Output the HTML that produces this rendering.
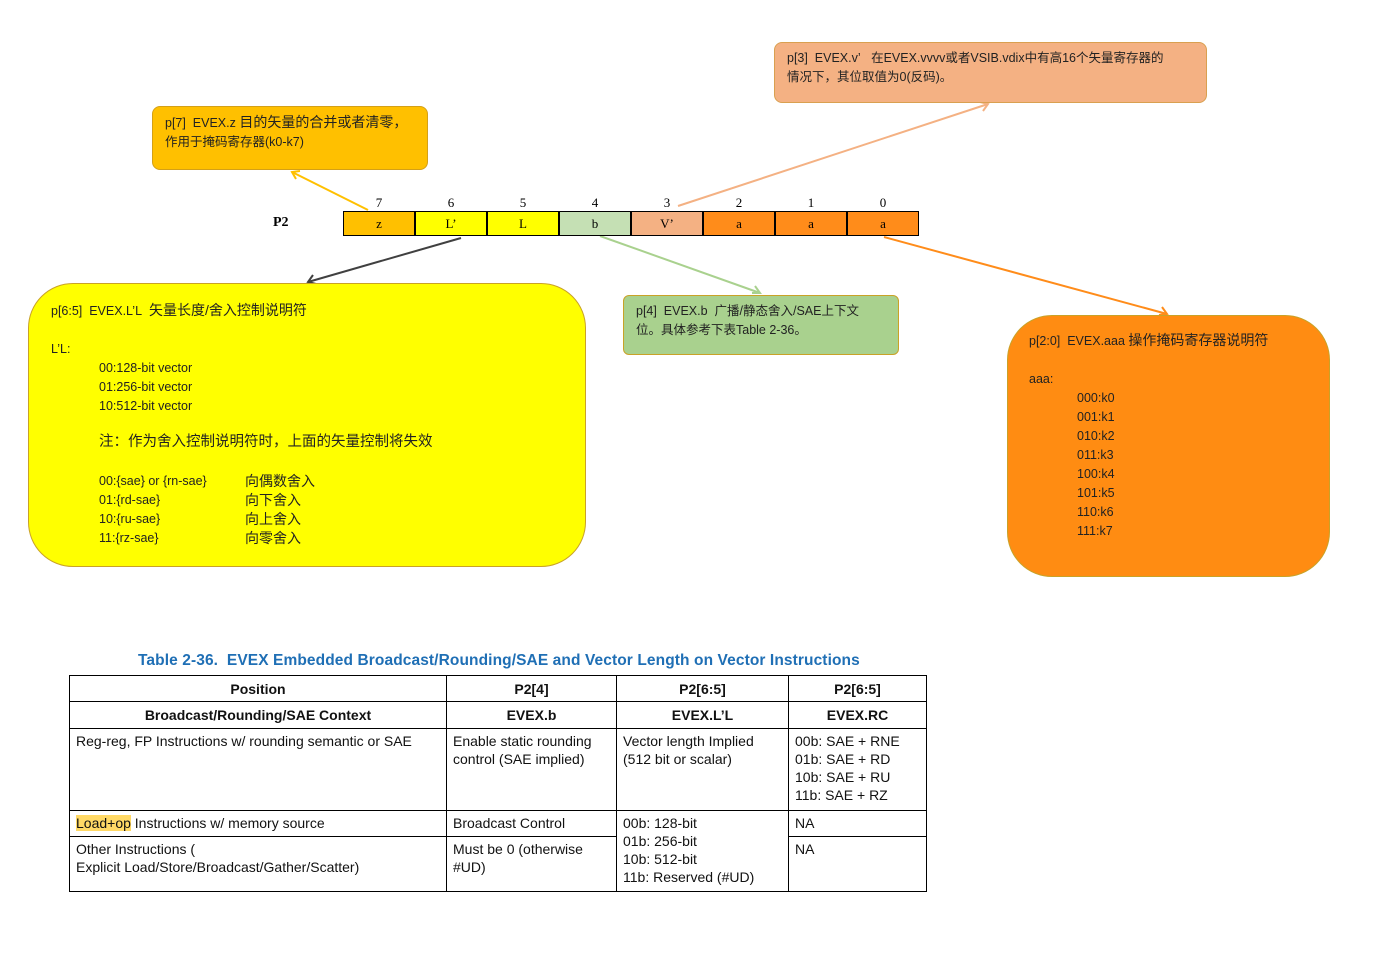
<!DOCTYPE html>
<html><head><meta charset="utf-8"><style>
body{margin:0;width:1388px;height:957px;background:#fff;position:relative;overflow:hidden;font-family:"Liberation Sans","Noto Sans CJK SC",sans-serif;}
.a{position:absolute;}
.t{position:absolute;font-size:12.5px;color:#222;white-space:nowrap;line-height:19px}
.box{position:absolute;box-sizing:border-box;}
.bit{position:absolute;top:211px;width:72px;height:25px;box-sizing:border-box;border:1px solid #000;font-family:"Liberation Serif",serif;font-size:13px;text-align:center;line-height:24px}
.num{position:absolute;top:195px;width:72px;text-align:center;font-family:"Liberation Serif",serif;font-size:13px}
table{position:absolute;left:69px;top:675px;border-collapse:collapse;font-size:14px;color:#111;table-layout:fixed;width:857px}
td{border:1px solid #000;padding:3px 6px;vertical-align:top;line-height:18px;overflow:hidden}
th{border:1px solid #000;font-weight:bold;height:21px;padding:2px;font-size:14px}
</style></head><body>
<svg class="a" style="left:0;top:0" width="1388" height="957">
<g stroke-width="2" fill="none">
<line x1="368" y1="210" x2="292" y2="172" stroke="#FFC000"/><polyline points="300,171 292,172 296,179" stroke="#FFC000"/>
<line x1="678" y1="206" x2="988" y2="104" stroke="#F4B183"/><polyline points="980,102 988,104 983,111" stroke="#F4B183"/>
<line x1="461" y1="238" x2="308" y2="282" stroke="#404040"/><polyline points="313,275 308,282 316,284" stroke="#404040"/>
<line x1="600" y1="236" x2="760" y2="293" stroke="#A9D18E"/><polyline points="752,293 760,293 755,286" stroke="#A9D18E"/>
<line x1="884" y1="237" x2="1167" y2="314" stroke="#FF8C1A"/><polyline points="1159,315 1167,314 1162,307" stroke="#FF8C1A"/>
</g></svg>
<div class="box" style="left:152px;top:106px;width:276px;height:64px;background:#FFC000;border:1.5px solid #D4A017;border-radius:8px"></div>
<div class="t" style="left:165px;top:113px">p[7]&nbsp; EVEX.z <span style="font-size:14px">目的矢量的合并或者清零，</span><br>作用于掩码寄存器(k0-k7)</div>
<div class="box" style="left:774px;top:42px;width:433px;height:61px;background:#F4B183;border:1.5px solid #D9A050;border-radius:8px"></div>
<div class="t" style="left:787px;top:49px">p[3]&nbsp; EVEX.v’&nbsp;&nbsp; 在EVEX.vvvv或者VSIB.vdix中有高16个矢量寄存器的<br>情况下，其位取值为0(反码)。</div>
<div class="a" style="left:273px;top:215px;font-family:'Liberation Serif',serif;font-weight:bold;font-size:14px">P2</div>
<div class="num" style="left:343px">7</div><div class="num" style="left:415px">6</div><div class="num" style="left:487px">5</div><div class="num" style="left:559px">4</div><div class="num" style="left:631px">3</div><div class="num" style="left:703px">2</div><div class="num" style="left:775px">1</div><div class="num" style="left:847px">0</div>
<div class="bit" style="left:343px;background:#FFC000">z</div>
<div class="bit" style="left:415px;background:#FFFF00">L’</div>
<div class="bit" style="left:487px;background:#FFFF00">L</div>
<div class="bit" style="left:559px;background:#C5E0B4">b</div>
<div class="bit" style="left:631px;background:#F4B183">V’</div>
<div class="bit" style="left:703px;background:#FF8C1A">a</div>
<div class="bit" style="left:775px;background:#FF8C1A">a</div>
<div class="bit" style="left:847px;background:#FF8C1A">a</div>
<div class="box" style="left:28px;top:283px;width:558px;height:284px;background:#FFFF00;border:1.5px solid #C9A227;border-radius:45px"></div>
<div class="t" style="left:51px;top:301px">p[6:5]&nbsp; EVEX.L’L&nbsp; <span style="font-size:14px">矢量长度/舍入控制说明符</span></div>
<div class="t" style="left:51px;top:340px">L’L:</div>
<div class="t" style="left:99px;top:359px">00:128-bit vector<br>01:256-bit vector<br>10:512-bit vector</div>
<div class="t" style="left:99px;top:433px;font-size:14.5px">注：作为舍入控制说明符时，上面的矢量控制将失效</div>
<div class="t" style="left:99px;top:472px">00:{sae} or {rn-sae}<br>01:{rd-sae}<br>10:{ru-sae}<br>11:{rz-sae}</div>
<div class="t" style="left:245px;top:472px;font-size:14px">向偶数舍入<br>向下舍入<br>向上舍入<br>向零舍入</div>
<div class="box" style="left:623px;top:295px;width:276px;height:60px;background:#A9D18E;border:1.5px solid #C9A227;border-radius:6px"></div>
<div class="t" style="left:636px;top:302px">p[4]&nbsp; EVEX.b&nbsp; 广播/静态舍入/SAE上下文<br>位。具体参考下表Table 2-36。</div>
<div class="box" style="left:1007px;top:315px;width:323px;height:262px;background:#FF8C12;border:1.5px solid #C9A227;border-radius:45px"></div>
<div class="t" style="left:1029px;top:331px">p[2:0]&nbsp; EVEX.aaa <span style="font-size:14px">操作掩码寄存器说明符</span></div>
<div class="t" style="left:1029px;top:370px">aaa:</div>
<div class="t" style="left:1077px;top:389px">000:k0<br>001:k1<br>010:k2<br>011:k3<br>100:k4<br>101:k5<br>110:k6<br>111:k7</div>
<div class="a" style="left:138px;top:652px;font-size:15.5px;font-weight:bold;color:#1F6FB5;letter-spacing:0.1px">Table 2-36.&nbsp; EVEX Embedded Broadcast/Rounding/SAE and Vector Length on Vector Instructions</div>
<table>
<colgroup><col style="width:377px"><col style="width:170px"><col style="width:172px"><col style="width:138px"></colgroup>
<tr><th>Position</th><th>P2[4]</th><th>P2[6:5]</th><th>P2[6:5]</th></tr>
<tr><th style="height:22px">Broadcast/Rounding/SAE Context</th><th>EVEX.b</th><th>EVEX.L’L</th><th>EVEX.RC</th></tr>
<tr style="height:82px"><td>Reg-reg, FP Instructions w/ rounding semantic or SAE</td><td>Enable static rounding<br>control (SAE implied)</td><td>Vector length Implied<br>(512 bit or scalar)</td><td>00b: SAE + RNE<br>01b: SAE + RD<br>10b: SAE + RU<br>11b: SAE + RZ</td></tr>
<tr style="height:26px"><td><span style="background:#FFD966">Load+op</span> Instructions w/ memory source</td><td>Broadcast Control</td><td rowspan="2">00b: 128-bit<br>01b: 256-bit<br>10b: 512-bit<br>11b: Reserved (#UD)</td><td>NA</td></tr>
<tr style="height:55px"><td>Other Instructions (<br>Explicit Load/Store/Broadcast/Gather/Scatter)</td><td>Must be 0 (otherwise<br>#UD)</td><td>NA</td></tr>
</table>
</body></html>
